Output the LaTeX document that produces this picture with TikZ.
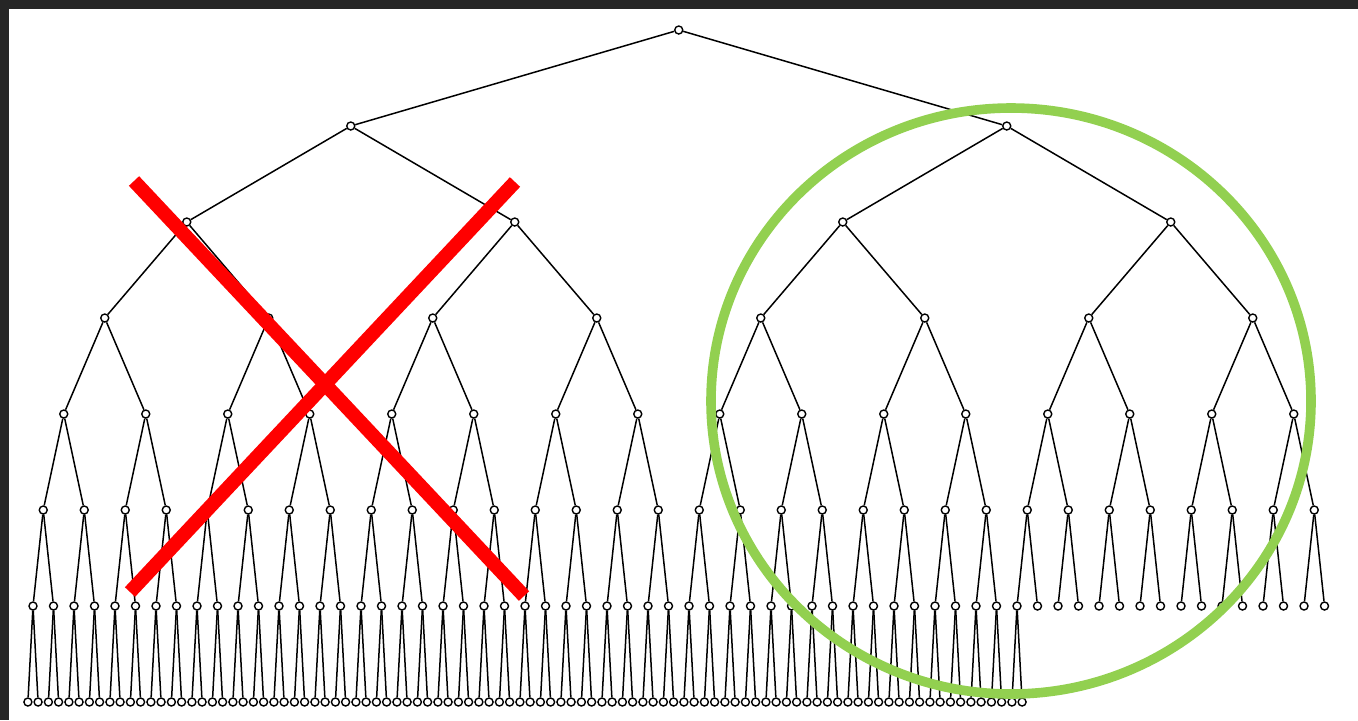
\documentclass[tikz,border=0pt]{standalone}
\definecolor{framegray}{HTML}{262626}
\definecolor{xred}{HTML}{FF0000}
\definecolor{ogreen}{HTML}{92D050}
\begin{document}
\begin{tikzpicture}[x=0.5pt,y=-0.5pt,
  vtx/.style={circle,draw=black,fill=white,inner sep=0pt,minimum size=4pt,line width=0.7pt},
  edge/.style={line width=0.75pt,black},
  cross/.style={xred,line width=7pt},
  ring/.style={ogreen,line width=4.8pt}]
\useasboundingbox (0,0) rectangle (1358,720);
\fill[white] (0,0) rectangle (1358,720);
\fill[framegray] (0,0) rectangle (1358,9);
\fill[framegray] (0,0) rectangle (9,720);
% nodes, levels 0..6
\foreach \d in {0,...,6}{
  \pgfmathtruncatemacro{\nmax}{2^\d-1}
  \pgfmathtruncatemacro{\spn}{2^(6-\d)}
  \foreach \j in {0,...,\nmax}{
    \pgfmathsetmacro{\xx}{33+20.5*(\j*\spn+(\spn-1)/2)}
    \node[vtx] (n-\d-\j) at ({\xx},{30+96*\d}) {};
  }
}
% level 7 leaves (children of level-6 nodes 0..48)
\foreach \k in {0,...,48}{
  \pgfmathtruncatemacro{\a}{2*\k}
  \pgfmathtruncatemacro{\b}{2*\k+1}
  \pgfmathsetmacro{\xa}{33+20.5*\k-5.1}
  \pgfmathsetmacro{\xb}{33+20.5*\k+5.1}
  \node[vtx] (n-7-\a) at ({\xa},702) {};
  \node[vtx] (n-7-\b) at ({\xb},702) {};
}
% edges levels 1..6
\foreach \d in {1,...,6}{
  \pgfmathtruncatemacro{\dm}{\d-1}
  \pgfmathtruncatemacro{\nmax}{2^\d-1}
  \foreach \j in {0,...,\nmax}{
    \pgfmathtruncatemacro{\p}{floor(\j/2)}
    \draw[edge] (n-\dm-\p) -- (n-\d-\j);
  }
}
\foreach \j in {0,...,97}{
  \pgfmathtruncatemacro{\p}{floor(\j/2)}
  \draw[edge] (n-6-\p) -- (n-7-\j);
}
% green ring
\draw[ring] (1011,401) ellipse [x radius=300, y radius=293];
% red cross
\draw[cross] (134,181) -- (524,596);
\draw[cross] (515,182) -- (130,592);
\end{tikzpicture}
\end{document}
